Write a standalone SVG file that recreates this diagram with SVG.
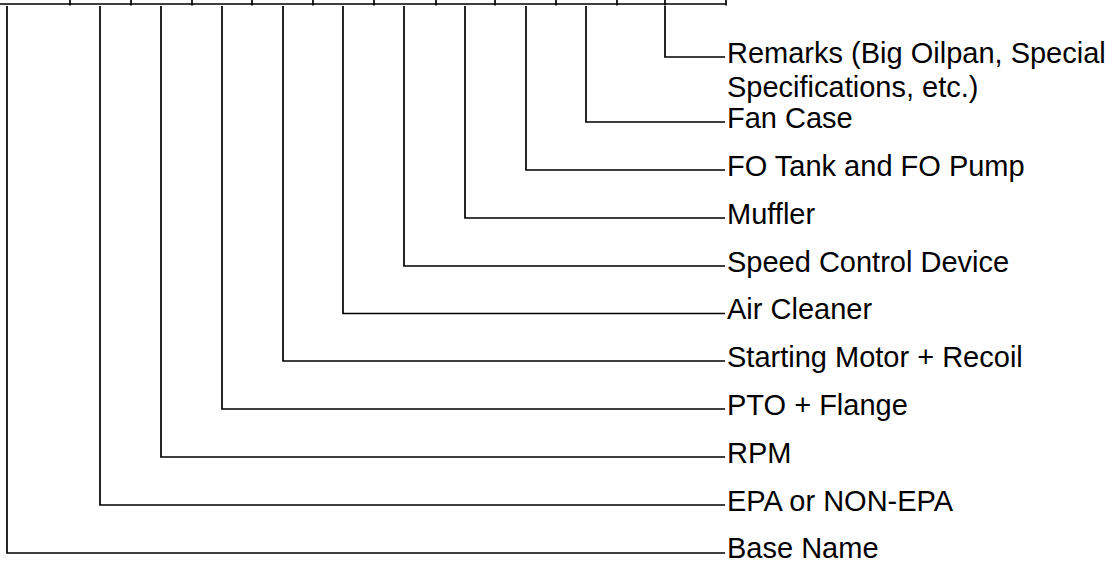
<svg xmlns="http://www.w3.org/2000/svg" width="1114" height="562" viewBox="0 0 1114 562">
<style>
.ln{fill:none;stroke:#000;stroke-width:1.7;stroke-linecap:butt;stroke-linejoin:miter}
.lb{font-family:"Liberation Sans",Arial,sans-serif;font-size:29px;fill:#000}
</style>
<rect width="1114" height="562" fill="#fff"/>
<g id="code-bar">
<path class="ln" d="M0 4H726M70 0V5.5M131 0V5.5M192 0V5.5M252 0V5.5M313 0V5.5M374 0V5.5M436 0V5.5M495 0V5.5M556 0V5.5M617 0V5.5M665 0V5.5M726 0V5.5"/>
</g>
<g id="connectors">
<path class="ln" d="M665 6V57H725"/>
<path class="ln" d="M586 6V122H725"/>
<path class="ln" d="M526 6V170H725"/>
<path class="ln" d="M465 6V218H725"/>
<path class="ln" d="M404 6V266H725"/>
<path class="ln" d="M343 6V313.5H725"/>
<path class="ln" d="M283 6V361H725"/>
<path class="ln" d="M222 6V409H725"/>
<path class="ln" d="M161 6V457H725"/>
<path class="ln" d="M100 6V505H725"/>
<path class="ln" d="M7 6V553H725"/>
</g>
<g id="remarks"><text class="lb" x="727" y="63">Remarks (Big Oilpan, Special</text><text class="lb" x="727" y="97">Specifications, etc.)</text></g>
<g id="fan-case"><text class="lb" x="727" y="127.5">Fan Case</text></g>
<g id="fo-tank"><text class="lb" x="727" y="175.5">FO Tank and FO Pump</text></g>
<g id="muffler"><text class="lb" x="727" y="223.5">Muffler</text></g>
<g id="speed-control"><text class="lb" x="727" y="271.5">Speed Control Device</text></g>
<g id="air-cleaner"><text class="lb" x="727" y="319">Air Cleaner</text></g>
<g id="starting-motor"><text class="lb" x="727" y="366.5">Starting Motor + Recoil</text></g>
<g id="pto"><text class="lb" x="727" y="414.5">PTO + Flange</text></g>
<g id="rpm"><text class="lb" x="727" y="462.5">RPM</text></g>
<g id="epa"><text class="lb" x="727" y="510.5">EPA or NON-EPA</text></g>
<g id="base-name"><text class="lb" x="727" y="557.5">Base Name</text></g>
</svg>
